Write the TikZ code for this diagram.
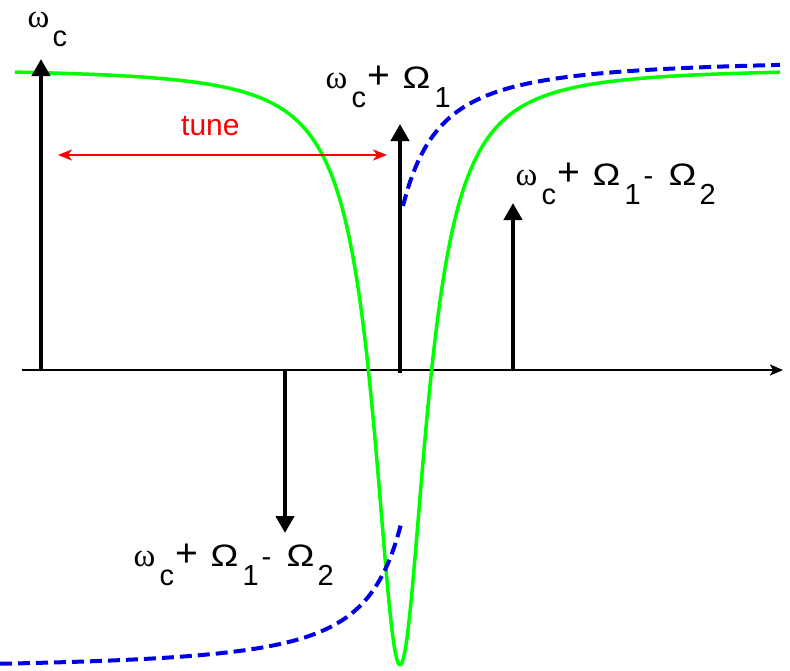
\documentclass[tikz,border=0pt]{standalone}
\usepackage{fontspec}
\setmainfont{Liberation Sans}
\newfontfamily\grk{Liberation Serif}
\usetikzlibrary{arrows.meta}
\newcommand\gw{{\grk\fontsize{33}{38}\selectfont ω}}
\newcommand\gO{\scalebox{1.2}[1]{\fontsize{31}{36}\selectfont Ω}}
\newcommand\pl{{\fontsize{39}{44}\selectfont +}}
\newcommand\lowr[1]{\raisebox{-19pt}{#1}}
\newcommand\gat[2]{\rlap{\hspace{#1pt}#2}}
\newcommand\labA{\gat{0}{\gw}\gat{26}{\lowr{c}}\gat{42}{\pl}\gat{77}{\gO}\gat{109}{\lowr{1}}}
\newcommand\labB{\labA\gat{128}{-}\gat{153}{\gO}\gat{184}{\lowr{2}}}
\definecolor{lgreen}{RGB}{0,255,0}
\definecolor{dblue}{RGB}{0,0,230}
\definecolor{pred}{RGB}{255,0,0}
\begin{document}
\begin{tikzpicture}[x=1pt,y=-1pt,
  lbl/.style={anchor=base west, inner sep=0pt, font=\fontsize{29}{34}\selectfont},
  spike/.style={line width=4.5pt, -{Triangle[width=18pt,length=17pt]}},
  axisline/.style={line width=2.2pt, -{Stealth[length=13pt,width=11pt,inset=3pt]}},
  tunearrow/.style={pred, line width=2pt, {Stealth[length=14pt,width=11pt,inset=4pt]}-{Stealth[length=14pt,width=11pt,inset=4pt]}},
  resonance/.style={lgreen, line width=3.5pt, line join=round},
  dispersion/.style={dblue, line width=4pt, dash pattern=on 12pt off 6pt}]
\useasboundingbox (0,0) rectangle (790,670);

% axis
\coordinate (axL) at (22,370);
\coordinate (axR) at (783,370);
\draw[axisline] (axL) -- (axR);

% green resonance
\draw[resonance] plot[domain=15:780, samples=500, smooth]
  (\x, {68 + 597*0.1024/(0.1024 + ((\x-400)/100)^2)});

% blue dispersion branches
\draw[dispersion] plot[domain=403:780, samples=200, smooth]
  (\x, {58 + 152/((1 + (\x-402)/55)^1.5)});
\draw[dispersion] plot[domain=0:401, samples=200, smooth]
  (\x, {670 - 150/((1 + (402-\x)/55)^1.5)});

% spikes
\coordinate (s1b) at (41,370);   \coordinate (s1t) at (41,59);
\coordinate (s2b) at (400,373);  \coordinate (s2t) at (400,124);
\coordinate (s3b) at (513,370);  \coordinate (s3t) at (513,203);
\coordinate (s4b) at (285,370);  \coordinate (s4t) at (285,533);
\draw[spike] (s1b) -- (s1t);
\draw[spike] (s2b) -- (s2t);
\draw[spike] (s3b) -- (s3t);
\draw[spike] (s4b) -- (s4t);

% tune arrow
\coordinate (tuneL) at (58,155);
\coordinate (tuneR) at (387,155);
\draw[tunearrow] (tuneL) -- (tuneR);
\node[anchor=base west, inner sep=0pt, text=pred, font=\fontsize{30}{36}\selectfont] (tune) at (181,135) {tune};

% labels
\node[lbl] (l1) at (27,27) {\gat{0}{\gw}\gat{25}{\lowr{c}}};
\node[lbl] (l2) at (325,88) {\labA};
\node[lbl] (l3) at (515,185) {\labB};
\node[lbl] (l4) at (133,566) {\labB};
\end{tikzpicture}
\end{document}
